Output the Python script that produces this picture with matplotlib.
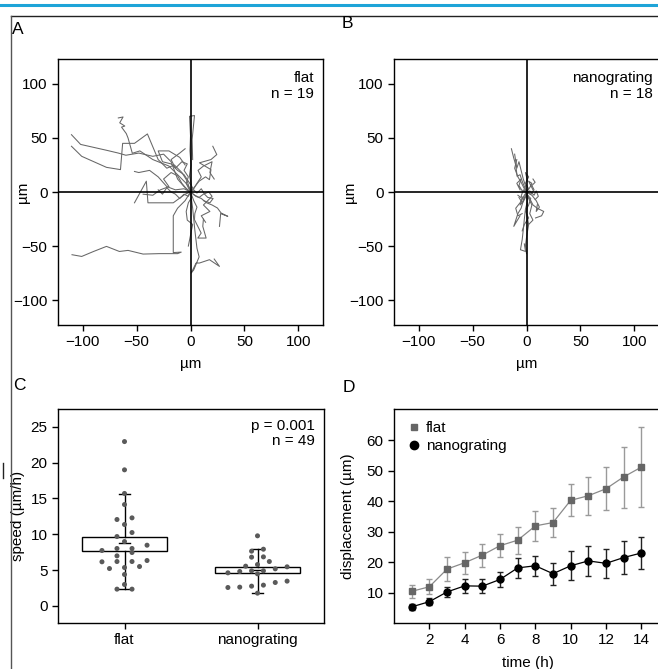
import numpy as np
import matplotlib
matplotlib.use("Agg")
import matplotlib.pyplot as plt
from matplotlib.lines import Line2D

plt.rcParams.update({
    "font.family": ["Liberation Sans", "DejaVu Sans"],
    "font.size": 11,
    "axes.linewidth": 1.0,
    "xtick.direction": "out",
    "ytick.direction": "out",
    "xtick.major.size": 4,
    "ytick.major.size": 4,
    "xtick.labelsize": 11,
    "ytick.labelsize": 11,
})

# ----------------------------
# Data
# ----------------------------
# A: flat substrate trajectories (um), every track starts at the origin
flat_tracks = [
    [(0, 0), (-3, 10), (-8, 18), (-15, 25), (-22, 22), (-30, 30), (-40, 53.7), (-52, 45), (-63, 45),
     (-65, 20.7), (-78, 22.8), (-101, 33), (-110.5, 42.3)],
    [(0, 0), (-6, 5), (-12, 12), (-18, 28), (-25, 35), (-35, 33), (-48, 36), (-60, 34), (-67, 36),
     (-78, 38.6), (-102, 44), (-110.5, 53)],
    [(0, 0), (-4, 8), (-10, 14), (-20, 24), (-35, 30), (-47, 38), (-54, 35.8), (-58, 50), (-59.6, 54),
     (-64, 60), (-61, 61), (-65.7, 64), (-62.6, 69.4), (-67, 68.5)],
    [(0, 0), (-5, -8), (-12, -15), (-16, -22), (-16, -40), (-16, -56), (-8.6, -55.6), (-12, -57),
     (-29, -57), (-44, -57.4), (-58, -54), (-66, -55), (-78, -50.3), (-90, -55), (-101, -59.6), (-110, -58)],
    [(0, 0), (1, 6), (-1, 15), (0.5, 25), (-0.5, 38), (0, 52), (-0.9, 70), (3.7, 70.7), (1.5, 48.5), (2, 30)],
    [(0, 0), (4, 5), (8, 10), (14, 14), (17.6, 11.4), (19, 20.7), (8.3, 27), (19, 30), (24.4, 34.6), (20.7, 42.3)],
    [(0, 0), (5, -4), (10, -6), (15, -10), (20, -12), (25, -14.8), (28.4, -19.4), (34.6, -22.5), (28, -20),
     (26.9, -31.8)],
    [(0, 0), (2, -15), (4, -35), (6, -52), (8, -60), (3, -72), (0.6, -75), (5.2, -65.7), (8.3, -65.7),
     (17.6, -62.6), (26.9, -68.8), (22, -62)],
    [(0, 0), (3, -8), (6, -14), (4, -20), (3.7, -25.6), (9.9, -38), (6.8, -42.6), (14.5, -42.6),
     (11.4, -31.8), (12, -25)],
    [(0, 0), (-5, -2), (-16, -10), (-39.5, -10), (-41, 10), (-52, -10)],
    [(0, 0), (-6, 3), (-14, 2), (-22, 5), (-30, 14), (-38, 20), (-48, 18), (-52, 19)],
    [(0, 0), (-3, 2), (-8, 8), (-12, 15), (-18, 18), (-25, 12), (-20, 5), (-28, 2), (-35, -3), (-44, -2)],
    [(0, 0), (4, -3), (8, -5), (12, -2), (17, 0), (20, -4), (16, -8), (12, -12), (18, -18), (10, -22), (14, -28)],
    [(0, 0), (2, 4), (-2, 10), (-6, 16), (-12, 20), (-18, 26), (-26, 28), (-30, 38), (-20, 38), (-10, 32), (-5, 25)],
    [(0, 0), (3, 2), (6, -1), (10, 3), (13, -2), (16, -5), (21, -6), (18, -10), (12, -8)],
    [(0, 0), (-2, -4), (-6, -2), (-10, -6), (-14, -2), (-18, 0), (-22, 4), (-26, -2), (-30, 2)],
    [(0, 0), (1, -5), (-2, -10), (-4, -18), (-3, -26), (2, -30), (0, -40), (-2, -50)],
    [(0, 0), (-1, 4), (-4, 8), (-2, 14), (-6, 20), (-3, 26), (-8, 28), (-14, 22), (-18, 30), (-10, 36), (-5, 40)],
    [(0, 0), (3, 3), (6, 8), (10, 14), (7, 20), (12, 24), (20, 28), (18, 18), (22, 12)],
]

# B: nanograting trajectories (um)
nano_tracks = [
    [(0, 0), (-2, 5), (-4, 10), (-6, 16), (-8.7, 14.5), (-10, 25), (-12, 32), (-14, 40)],
    [(0, 0), (-1, 6), (-3, 12), (-5, 20), (-7, 28), (-9, 22), (-11, 35)],
    [(0, 0), (1, -8), (-1, -16), (-2, -25), (-3, -35), (-4, -44), (-5.6, -53.4), (-0.9, -55), (-2, -48)],
    [(0, 0), (2, -5), (4, -8), (6, -12), (10, -15), (16, -18), (14, -22), (8.4, -24)],
    [(0, 0), (-3, -8), (-5, -15), (-8, -20), (-11.8, -31.8), (-9, -27), (-6, -22)],
    [(0, 0), (1, -10), (0, -20), (2, -30), (0, -42), (-1, -50), (0, -57)],
    [(0, 0), (3, 4), (5, 8), (2, 10), (4, 6), (6, 2)],
    [(0, 0), (-3, 2), (-5, -4), (-2, -6), (-4, -10), (-7, -5)],
    [(0, 0), (4, -2), (7, 2), (5, 6), (8, 9), (6, 12)],
    [(0, 0), (-2, -3), (-6, -10), (-10, -15), (-8, -22), (-4, -20)],
    [(0, 0), (2, 3), (-1, 8), (2, 14), (-1, 18), (1, 10)],
    [(0, 0), (5, -3), (9, -8), (12, -14), (9, -18), (10, -12)],
    [(0, 0), (-4, 1), (-7, 6), (-5, 12), (-9, 8), (-6, 2)],
    [(0, 0), (2, -6), (5, -12), (3, -20), (6, -26), (2, -30)],
    [(0, 0), (-1, -5), (-3, -9), (-6, -12), (-4, -6), (-8, -3)],
    [(0, 0), (3, 1), (7, -3), (9, 1), (11, -4), (8, -7)],
    [(0, 0), (-2, 3), (-5, 9), (-8, 14), (-11, 22), (-9, 30)],
    [(0, 0), (1, -3), (4, -6), (2, -12), (-1, -18), (2, -24), (-2, -30), (-4, -36)],
]

# C: speed (um/h)
groups = ["flat", "nanograting"]
flat_speed = [22.95, 19.0, 15.7, 14.15, 12.06, 12.29, 11.36, 10.24, 9.68, 8.98, 8.47, 8.01, 7.73,
              8.01, 7.45, 6.19, 6.15, 6.19, 6.33, 6.98, 5.21, 5.49, 5.35, 4.38, 2.98, 2.33, 2.33]
nano_speed = [9.78, 7.64, 7.91, 5.54, 6.84, 6.19, 6.80, 5.45, 5.77, 4.89, 4.80, 4.89, 5.17, 4.47,
              4.61, 2.75, 2.89, 2.56, 3.26, 2.61, 3.45, 1.77]
box_low = [7.68, 4.56]
box_high = [9.68, 5.45]
box_mean = [8.75, 5.03]
whisk_low = [2.33, 1.77]
whisk_high = [15.64, 7.91]

# D: displacement (um) over time (h)
hours = list(range(1, 15))
flat_disp = [10.4, 11.9, 17.7, 19.8, 22.3, 25.4, 27.2, 31.9, 33.0, 40.3, 41.8, 44.1, 48.0, 51.2]
flat_hi = [12.4, 14.3, 21.7, 23.4, 26.0, 29.2, 31.5, 36.7, 37.8, 45.6, 48.0, 51.3, 57.8, 64.3]
flat_lo = [8.3, 9.6, 13.8, 16.1, 18.5, 21.6, 22.8, 27.0, 28.3, 35.0, 35.5, 37.0, 37.8, 38.2]
nano_disp = [5.3, 7.0, 10.2, 12.2, 12.1, 14.3, 18.1, 18.8, 16.2, 18.8, 20.4, 19.6, 21.5, 23.0]
nano_hi = [6.3, 8.1, 11.7, 14.4, 14.4, 16.8, 21.4, 22.1, 19.7, 23.8, 25.2, 24.3, 26.8, 28.2]
nano_lo = [4.3, 6.0, 8.6, 10.0, 10.0, 11.7, 14.8, 15.5, 12.5, 14.0, 15.5, 14.8, 16.0, 17.7]

TRACK_COLOR = "#666666"
DOT_COLOR = "#5a5a5a"

# ----------------------------
# Helpers
# ----------------------------
def rose(ax, tracks, label, text_x):
    for tr in tracks:
        xs = [p[0] for p in tr]
        ys = [p[1] for p in tr]
        ax.plot(xs, ys, color=TRACK_COLOR, lw=0.75, zorder=2)
    ax.axhline(0, color="black", lw=1.2, zorder=3)
    ax.axvline(0, color="black", lw=1.2, zorder=3)
    ax.set_xlim(-123, 123)
    ax.set_ylim(-123, 123)
    ax.set_xticks([-100, -50, 0, 50, 100])
    ax.set_yticks([-100, -50, 0, 50, 100])
    ax.set_xlabel("µm")
    ax.set_ylabel("µm")
    ax.xaxis.set_label_coords(0.5, -0.12)
    ax.text(text_x, 0.955, label, transform=ax.transAxes, ha="right", va="top",
            linespacing=1.15)


def binned_offsets(values, step):
    # column-scatter layout: values rounded into unit bins, spread sideways
    vals = np.asarray(values, dtype=float)
    bins = np.round(vals)
    offs = np.zeros_like(vals)
    for b in np.unique(bins):
        idx = np.where(bins == b)[0]
        idx = idx[np.argsort(vals[idx])]
        n = len(idx)
        for k, i in enumerate(idx):
            offs[i] = (k - (n - 1) / 2) * step
    return offs


# ----------------------------
# Figure
# ----------------------------
fig = plt.figure(figsize=(6.58, 6.69), dpi=100)
W, H = 658, 669

def px_axes(left, top, right, bottom):
    return fig.add_axes([left / W, 1 - bottom / H, (right - left) / W, (bottom - top) / H])

axA = px_axes(58, 59, 323, 325)
axB = px_axes(394, 59, 659, 325)
axC = px_axes(58, 409, 324, 623)
axD = px_axes(394, 409, 659, 623)

rose(axA, flat_tracks, "flat\nn = 19", 0.966)
axA.yaxis.set_label_coords(-0.106, 0.5)
rose(axB, nano_tracks, "nanograting\nn = 18", 0.977)
axB.yaxis.set_label_coords(-0.14, 0.5)

# C: speed column scatter with box (mean +- error) and whiskers
steps = [0.113, 0.089]
for i, (vals, st) in enumerate(zip([flat_speed, nano_speed], steps)):
    hw = 0.32
    axC.add_patch(plt.Rectangle((i - hw, box_low[i]), 2 * hw, box_high[i] - box_low[i],
                                facecolor="white", edgecolor="black", lw=1.0, zorder=2))
    axC.plot([i - 0.045, i + 0.045], [box_mean[i]] * 2, color="black", lw=1.0, zorder=2)
    axC.plot([i, i], [box_high[i], whisk_high[i]], color="black", lw=1.0, zorder=2)
    axC.plot([i, i], [whisk_low[i], box_low[i]], color="black", lw=1.0, zorder=2)
    for w in (whisk_low[i], whisk_high[i]):
        axC.plot([i - 0.04, i + 0.04], [w, w], color="black", lw=1.0, zorder=2)
    offs = binned_offsets(vals, st)
    axC.scatter(i + offs, vals, s=13, color=DOT_COLOR, edgecolors="none", zorder=3)

axC.set_xlim(-0.5, 1.5)
axC.set_ylim(-2.4, 27.5)
axC.set_xticks([0, 1])
axC.set_xticklabels(groups)
axC.set_yticks([0, 5, 10, 15, 20, 25])
axC.set_ylabel("speed (µm/h)")
axC.yaxis.set_label_coords(-0.124, 0.5)
axC.text(0.966, 0.955, "p = 0.001\nn = 49", transform=axC.transAxes, ha="right", va="top",
         linespacing=1.15)

# D: displacement over time
h = np.array(hours)
fd = np.array(flat_disp)
nd = np.array(nano_disp)
axD.errorbar(h, fd, yerr=[fd - np.array(flat_lo), np.array(flat_hi) - fd], fmt="none",
             ecolor="#9a9a9a", elinewidth=1.0, capsize=2.5, capthick=1.0, zorder=2)
axD.plot(h, fd, color="#8a8a8a", lw=0.9, zorder=3)
axD.plot(h, fd, ls="none", marker="s", ms=4, color="#666666", zorder=4)
axD.errorbar(h, nd, yerr=[nd - np.array(nano_lo), np.array(nano_hi) - nd], fmt="none",
             ecolor="#222222", elinewidth=1.0, capsize=2.5, capthick=1.0, zorder=2)
axD.plot(h, nd, color="black", lw=0.9, marker="o", ms=5, zorder=4)

axD.set_xlim(0, 15)
axD.set_ylim(0, 70.3)
axD.set_xticks([2, 4, 6, 8, 10, 12, 14])
axD.set_yticks([10, 20, 30, 40, 50, 60])
axD.set_xlabel("time (h)")
axD.xaxis.set_label_coords(0.505, -0.152)
axD.set_ylabel("displacement (µm)")
axD.yaxis.set_label_coords(-0.147, 0.5)
flat_handle = Line2D([], [], ls="none", marker="s", ms=5, color="#666666")
nano_handle = Line2D([], [], ls="none", marker="o", ms=6, color="black")
axD.legend([flat_handle, nano_handle], ["flat", "nanograting"], loc="upper left",
           frameon=False, handletextpad=0.3, handlelength=1.0,
           borderaxespad=0.4, labelspacing=0.25)

for ax in (axA, axB, axC, axD):
    ax.tick_params(top=False, right=False, width=1.0)

# panel letters and figure frame
for letter, x, y in [("A", 12, 29), ("B", 342, 24), ("C", 13, 386), ("D", 343, 387)]:
    fig.text(x / W, 1 - y / H, letter, fontsize=12.5, ha="left", va="center")

fig.add_artist(Line2D([0, 1], [1 - 5 / H] * 2, color="#1ea4d8", lw=2.2))
fig.add_artist(Line2D([11 / W, 1], [1 - 16 / H] * 2, color="#222222", lw=1.0))
fig.add_artist(Line2D([11 / W, 11 / W], [0, 1 - 16 / H], color="#555555", lw=1.0))
fig.add_artist(Line2D([2.5 / W, 2.5 / W], [1 - 478 / H, 1 - 463 / H], color="#222222", lw=1.0))

fig.savefig("out.png", dpi=100)
